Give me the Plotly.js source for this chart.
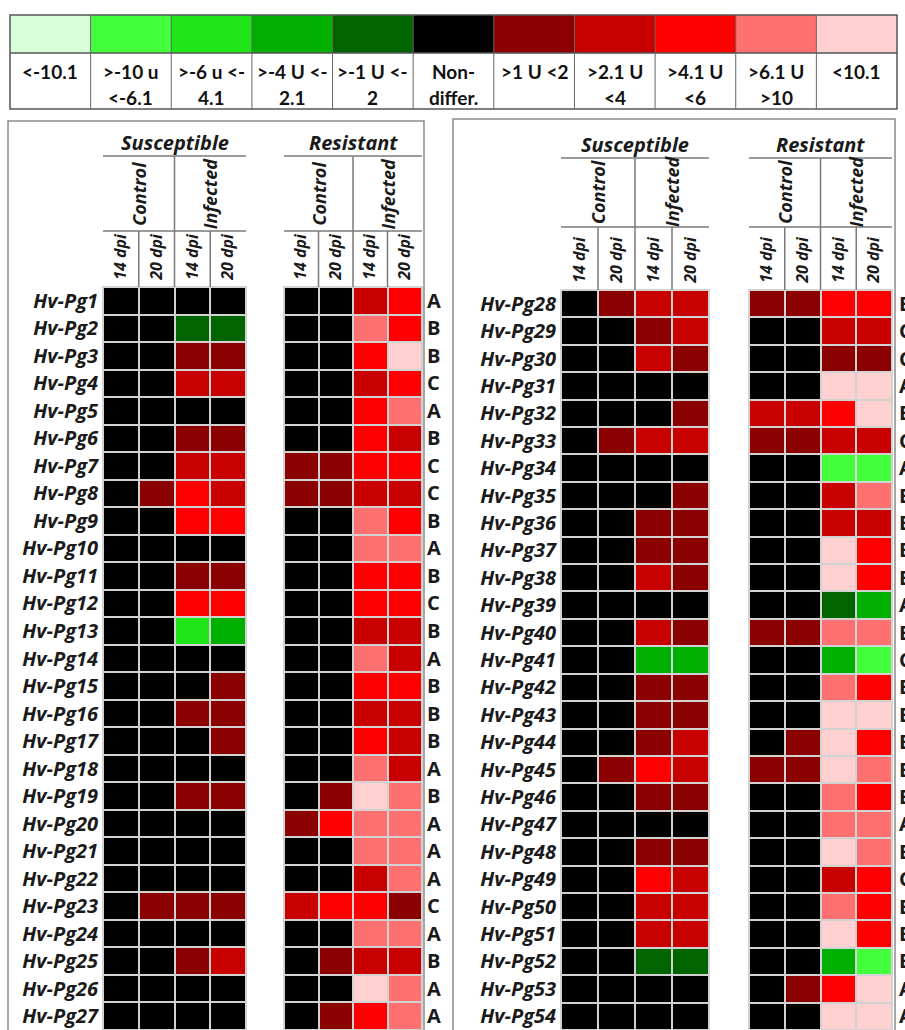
<!DOCTYPE html>
<html><head><meta charset="utf-8">
<script src="https://cdn.plot.ly/plotly-3.0.1.min.js"></script>
<style>html,body{margin:0;padding:0;background:#fff}#chart{width:905px;height:1030px}</style>
</head><body><div id="chart"></div>
<script>
// ---------- DATA ----------
const legendCodes = [-5, -4, -3, -2, -1, 0, 1, 2, 3, 4, 5];
const legendColors = ['#d9ffd9', '#44ff3c', '#1ee618', '#00b000', '#006400', '#000000', '#8b0000', '#c80000', '#ff0000', '#ff7070', '#ffd0d0'];
const legendLine1 = ['&lt;-10.1', '&gt;-10 u', '&gt;-6 u &lt;-', '&gt;-4 U &lt;-', '&gt;-1 U &lt;-', 'Non-', '&gt;1 U &lt;2', '&gt;2.1 U', '&gt;4.1 U', '&gt;6.1 U', '&lt;10.1'];
const legendLine2 = ['', '&lt;-6.1', '4.1', '2.1', '2', 'differ.', '', '&lt;4', '&lt;6', '&gt;10', ''];
const dpiLabels = ['14 dpi', '20 dpi', '14 dpi', '20 dpi'];
const groupLabels = ['Susceptible', 'Resistant'];
const treatLabels = ['Control', 'Infected'];

const genesLeft = ['Hv-Pg1','Hv-Pg2','Hv-Pg3','Hv-Pg4','Hv-Pg5','Hv-Pg6','Hv-Pg7','Hv-Pg8','Hv-Pg9','Hv-Pg10','Hv-Pg11','Hv-Pg12','Hv-Pg13','Hv-Pg14','Hv-Pg15','Hv-Pg16','Hv-Pg17','Hv-Pg18','Hv-Pg19','Hv-Pg20','Hv-Pg21','Hv-Pg22','Hv-Pg23','Hv-Pg24','Hv-Pg25','Hv-Pg26','Hv-Pg27'];
const susLeft = [
 [0,0,0,0],[0,0,-1,-1],[0,0,1,1],[0,0,2,2],[0,0,0,0],[0,0,1,1],[0,0,2,2],[0,1,3,2],[0,0,3,3],
 [0,0,0,0],[0,0,1,1],[0,0,3,3],[0,0,-3,-2],[0,0,0,0],[0,0,0,1],[0,0,1,1],[0,0,0,1],[0,0,0,0],
 [0,0,1,1],[0,0,0,0],[0,0,0,0],[0,0,0,0],[0,1,1,1],[0,0,0,0],[0,0,1,2],[0,0,0,0],[0,0,0,0]];
const resLeft = [
 [0,0,2,3],[0,0,4,3],[0,0,3,5],[0,0,2,3],[0,0,3,4],[0,0,3,2],[1,1,3,3],[1,1,2,2],[0,0,4,3],
 [0,0,4,4],[0,0,3,3],[0,0,3,3],[0,0,2,2],[0,0,4,2],[0,0,3,3],[0,0,2,2],[0,0,3,2],[0,0,4,2],
 [0,1,5,4],[1,3,4,4],[0,0,4,4],[0,0,2,4],[2,3,3,1],[0,0,4,4],[0,1,2,2],[0,0,5,4],[0,1,3,4]];
const lettersLeft = ['A','B','B','C','A','B','C','C','B','A','B','C','B','A','B','B','B','A','B','A','A','A','C','A','B','A','A'];

const genesRight = ['Hv-Pg28','Hv-Pg29','Hv-Pg30','Hv-Pg31','Hv-Pg32','Hv-Pg33','Hv-Pg34','Hv-Pg35','Hv-Pg36','Hv-Pg37','Hv-Pg38','Hv-Pg39','Hv-Pg40','Hv-Pg41','Hv-Pg42','Hv-Pg43','Hv-Pg44','Hv-Pg45','Hv-Pg46','Hv-Pg47','Hv-Pg48','Hv-Pg49','Hv-Pg50','Hv-Pg51','Hv-Pg52','Hv-Pg53','Hv-Pg54'];
const susRight = [
 [0,1,2,2],[0,0,1,2],[0,0,2,1],[0,0,0,0],[0,0,0,1],[0,1,2,2],[0,0,0,0],[0,0,0,1],[0,0,1,1],
 [0,0,1,1],[0,0,2,1],[0,0,0,0],[0,0,2,1],[0,0,-2,-2],[0,0,1,1],[0,0,1,1],[0,0,1,2],[0,1,3,2],
 [0,0,1,1],[0,0,0,0],[0,0,1,1],[0,0,3,2],[0,0,2,2],[0,0,2,2],[0,0,-1,-1],[0,0,0,0],[0,0,0,0]];
const resRight = [
 [1,1,3,3],[0,0,2,2],[0,0,1,1],[0,0,5,5],[2,2,3,5],[1,1,2,2],[0,0,-4,-4],[0,0,2,4],[0,0,2,2],
 [0,0,5,3],[0,0,5,3],[0,0,-1,-2],[1,1,4,4],[0,0,-2,-4],[0,0,4,3],[0,0,5,5],[0,1,5,3],[1,1,5,4],
 [0,0,4,3],[0,0,4,4],[0,0,5,4],[0,0,2,3],[0,0,4,3],[0,0,5,3],[0,0,-2,-4],[0,1,3,5],[0,0,5,5]];
const lettersRight = ['B','C','C','A','B','C','A','B','B','B','B','A','B','C','B','B','B','B','B','A','B','C','B','B','B','A','A'];

// ---------- LAYOUT HELPERS ----------
const W = 905, H = 1030;
const fx = x => x / W;
const fy = y => 1 - y / H;

const colorscale = [];
legendColors.forEach((c, i) => { colorscale.push([i / legendColors.length, c]); colorscale.push([(i + 1) / legendColors.length, c]); });

const rowIdx = genesLeft.map((_, i) => i);
const colIdx = dpiLabels.map((_, i) => i);

const FAM = '"Open Sans", Lato, sans-serif';
const geneFont = {family: FAM, size: 20, color: '#1a1a1a', weight: 'bold', style: 'italic'};
const dpiFont = {family: FAM, size: 16, color: '#1a1a1a', weight: 'bold', style: 'italic'};
const letterFont = {family: FAM, size: 20, color: '#1a1a1a', weight: 'bold'};
const gridCol = '#d2d2d2';

function hm(z, xa, ya) {
  return {type: 'heatmap', z: z, x: colIdx, y: rowIdx, xaxis: xa, yaxis: ya,
    colorscale: colorscale, zmin: -5.5, zmax: 5.5, showscale: false, xgap: 2, ygap: 2, hoverinfo: 'skip'};
}

const panels = [
  {sx: [103, 246], rx: [284, 422], top: 287, uline: 156, hline: 231, htitle: 143, ttl: 194, genes: genesLeft, letters: lettersLeft, s: susLeft, r: resLeft},
  {sx: [561, 709], rx: [749, 892], top: 290, uline: 158, hline: 227, htitle: 144, ttl: 192, genes: genesRight, letters: lettersRight, s: susRight, r: resRight}
];

const traces = [];
const layout = {width: W, height: H, margin: {l: 0, r: 0, t: 0, b: 0}, paper_bgcolor: '#fff', plot_bgcolor: gridCol,
  showlegend: false, shapes: [], annotations: []};

let axn = 1;
panels.forEach((p, pi) => {
  [[p.sx, p.s, 'left', p.genes], [p.rx, p.r, 'right', p.letters]].forEach(([dx, z, side, labels], gi) => {
    const n = axn++;
    const xk = 'xaxis' + (n === 1 ? '' : n), yk = 'yaxis' + (n === 1 ? '' : n);
    const xa = 'x' + (n === 1 ? '' : n), ya = 'y' + (n === 1 ? '' : n);
    traces.push(hm(z, xa, ya));
    layout[xk] = {domain: [fx(dx[0]), fx(dx[1])], anchor: ya, side: 'top', range: [-0.5, 3.5],
      tickmode: 'array', tickvals: colIdx, ticktext: dpiLabels, tickangle: -90, tickfont: dpiFont,
      ticks: '', showgrid: false, zeroline: false, showline: true, linecolor: gridCol, linewidth: 1, mirror: true, fixedrange: true, ticklabelstandoff: 3};
    layout[yk] = {domain: [0, fy(p.top)], anchor: xa, side: side, range: [rowIdx.length - 0.5, -0.5],
      tickmode: 'array', tickvals: rowIdx, ticktext: labels, tickfont: side === 'left' ? geneFont : letterFont,
      ticks: '', showgrid: false, zeroline: false, showline: true, linecolor: gridCol, linewidth: 1, mirror: true, fixedrange: true,
      ticklabelstandoff: side === 'left' ? 0 : (pi === 0 ? 0 : 2)};
    // header lines
    const lc = {color: '#7a7a7a', width: 1.5};
    const cw = (dx[1] - dx[0]) / 4;
    const mid = dx[0] + 2 * cw;
    layout.shapes.push({type: 'line', xref: 'paper', yref: 'paper', x0: fx(dx[0]), x1: fx(dx[1]), y0: fy(p.uline), y1: fy(p.uline), line: lc});
    layout.shapes.push({type: 'line', xref: 'paper', yref: 'paper', x0: fx(dx[0]), x1: fx(dx[1]), y0: fy(p.hline), y1: fy(p.hline), line: lc});
    layout.shapes.push({type: 'line', xref: 'paper', yref: 'paper', x0: fx(mid), x1: fx(mid), y0: fy(p.uline), y1: fy(p.top), line: lc});
    [1, 3].forEach(k => {
      const xx = dx[0] + k * cw;
      layout.shapes.push({type: 'line', xref: 'paper', yref: 'paper', x0: fx(xx), x1: fx(xx), y0: fy(p.hline), y1: fy(p.top), line: lc});
    });
    layout.annotations.push({xref: 'paper', yref: 'paper', x: fx((dx[0] + dx[1]) / 2), y: fy(p.htitle), xanchor: 'center', yanchor: 'middle',
      text: groupLabels[gi], showarrow: false,
      font: {family: FAM, size: 20, color: '#1a1a1a', weight: 'bold', style: 'italic'}});
    treatLabels.forEach((t, ti) => {
      layout.annotations.push({xref: 'paper', yref: 'paper', x: fx(dx[0] + (ti * 2 + 1) * cw), y: fy(p.ttl), xanchor: 'center', yanchor: 'middle',
        text: t, textangle: -90, showarrow: false,
        font: {family: FAM, size: 18, color: '#1a1a1a', weight: 'bold', style: 'italic'}});
    });
  });
});

// panel frames
layout.shapes.push({type: 'rect', xref: 'paper', yref: 'paper', x0: fx(8), x1: fx(424), y0: fy(121), y1: fy(1045), line: {color: '#8a8a8a', width: 1.5}});
layout.shapes.push({type: 'rect', xref: 'paper', yref: 'paper', x0: fx(453), x1: fx(895), y0: fy(119), y1: fy(1045), line: {color: '#8a8a8a', width: 1.5}});

// legend
const lx0 = 10, lx1 = 897, ly0 = 15, ly1 = 53, ly2 = 109;
traces.push({type: 'heatmap', z: [legendCodes], x: legendCodes.map((_, i) => i), y: [0], xaxis: 'x5', yaxis: 'y5',
  colorscale: colorscale, zmin: -5.5, zmax: 5.5, showscale: false, hoverinfo: 'skip'});
layout.xaxis5 = {domain: [fx(lx0), fx(lx1)], anchor: 'y5', range: [-0.5, legendCodes.length - 0.5], visible: false, fixedrange: true};
layout.yaxis5 = {domain: [fy(ly1), fy(ly0)], anchor: 'x5', range: [-0.5, 0.5], visible: false, fixedrange: true};
const lcol = {color: '#555', width: 1.5};
layout.shapes.push({type: 'rect', xref: 'paper', yref: 'paper', x0: fx(lx0), x1: fx(lx1), y0: fy(ly0), y1: fy(ly2), line: lcol});
layout.shapes.push({type: 'line', xref: 'paper', yref: 'paper', x0: fx(lx0), x1: fx(lx1), y0: fy(ly1), y1: fy(ly1), line: lcol});
const legFont = {family: 'Lato, "Open Sans", sans-serif', size: 19, color: '#111', weight: 'bold'};
legendCodes.forEach((_, i) => {
  if (i > 0) layout.shapes.push({type: 'line', xref: 'x5', yref: 'paper', x0: i - 0.5, x1: i - 0.5, y0: fy(ly0), y1: fy(ly2), line: {color: '#666', width: 1}});
  layout.annotations.push({xref: 'x5', yref: 'paper', x: i, y: fy(71), xanchor: 'center', yanchor: 'middle', text: legendLine1[i], showarrow: false, font: legFont});
  if (legendLine2[i]) layout.annotations.push({xref: 'x5', yref: 'paper', x: i, y: fy(97), xanchor: 'center', yanchor: 'middle', text: legendLine2[i], showarrow: false, font: legFont});
});

Plotly.newPlot('chart', traces, layout, {staticPlot: true, displayModeBar: false});
</script></body></html>
